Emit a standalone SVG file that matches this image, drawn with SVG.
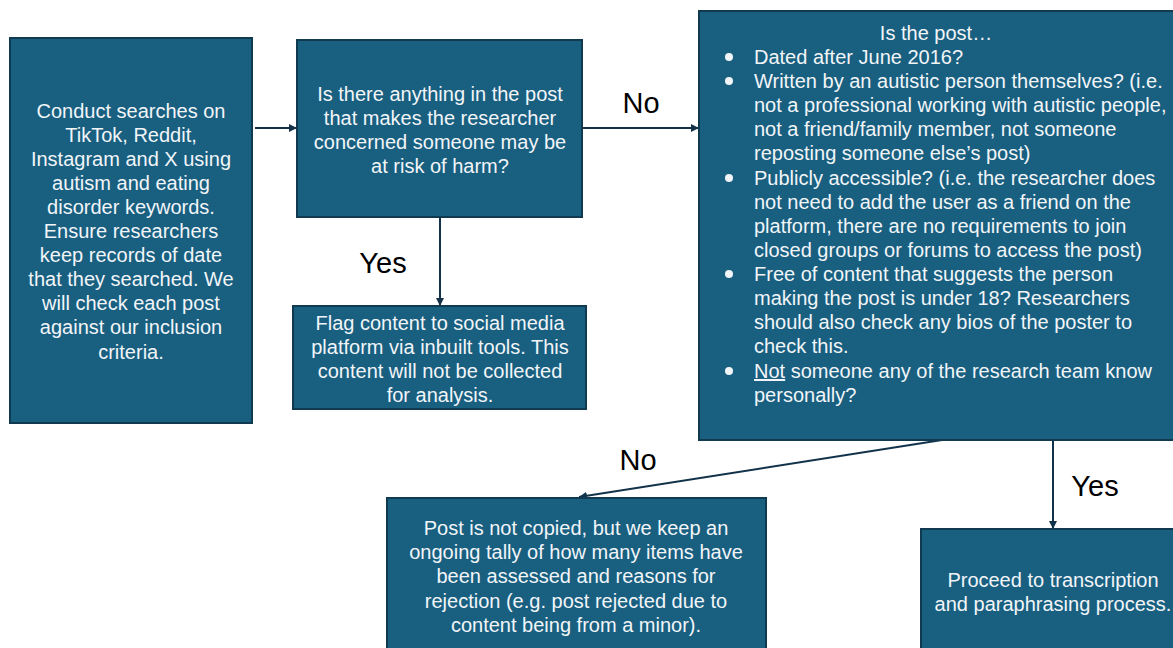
<svg xmlns="http://www.w3.org/2000/svg" width="1173" height="648" viewBox="0 0 1173 648">
<defs>
<style>
.box{fill:#185f80;stroke:#0f3a50;stroke-width:2}
.t{font-family:"Liberation Sans",Arial,sans-serif;font-size:20px;fill:#f2f5f8}
.c{text-anchor:middle}
.lbl{font-family:"Liberation Sans",Arial,sans-serif;font-size:29px;fill:#000;text-anchor:middle}
.con{stroke:#12324a;stroke-width:2;fill:none;marker-end:url(#ah)}
.bul{fill:#f2f5f8}
</style>
<marker id="ah" viewBox="0 0 10 10" refX="10" refY="5" markerWidth="8" markerHeight="8" orient="auto" markerUnits="userSpaceOnUse">
<path d="M0,0 L10,5 L0,10 z" fill="#12324a"/>
</marker>
</defs>
<rect width="1173" height="648" fill="#fff"/>
<g id="connectors">
<line class="con" x1="255" y1="128" x2="297" y2="128"/>
<line class="con" x1="440" y1="217" x2="440" y2="306"/>
<line class="con" x1="582" y1="128" x2="699" y2="128"/>
<line class="con" x1="942" y1="440" x2="579" y2="497"/>
<line class="con" x1="1053" y1="432" x2="1053" y2="529"/>
<text class="lbl" x="641" y="113">No</text>
<text class="lbl" x="383" y="273">Yes</text>
<text class="lbl" x="638" y="470">No</text>
<text class="lbl" x="1095" y="496">Yes</text>
</g>
<g id="search">
<rect class="box" x="10" y="38" width="242" height="385"/>
<text class="t c" x="131" y="118">Conduct searches on</text>
<text class="t c" x="131" y="142">TikTok, Reddit,</text>
<text class="t c" x="131" y="166">Instagram and X using</text>
<text class="t c" x="131" y="190">autism and eating</text>
<text class="t c" x="131" y="214">disorder keywords.</text>
<text class="t c" x="131" y="238">Ensure researchers</text>
<text class="t c" x="131" y="262">keep records of date</text>
<text class="t c" x="131" y="286">that they searched. We</text>
<text class="t c" x="131" y="310">will check each post</text>
<text class="t c" x="131" y="334">against our inclusion</text>
<text class="t c" x="131" y="359">criteria.</text>
</g>
<g id="harm">
<rect class="box" x="297" y="40" width="285" height="177"/>
<text class="t c" x="440" y="101">Is there anything in the post</text>
<text class="t c" x="440" y="125">that makes the researcher</text>
<text class="t c" x="440" y="149">concerned someone may be</text>
<text class="t c" x="440" y="173">at risk of harm?</text>
</g>
<g id="flag">
<rect class="box" x="293" y="306" width="293" height="103"/>
<text class="t c" x="440" y="330">Flag content to social media</text>
<text class="t c" x="440" y="354">platform via inbuilt tools. This</text>
<text class="t c" x="440" y="378">content will not be collected</text>
<text class="t c" x="440" y="402">for analysis.</text>
</g>
<g id="criteria">
<rect class="box" x="699" y="11" width="490" height="429"/>
<text class="t c" x="936" y="40">Is the post…</text>
<circle class="bul" cx="729" cy="57" r="4"/>
<text class="t" x="754" y="64">Dated after June 2016?</text>
<circle class="bul" cx="729" cy="81" r="4"/>
<text class="t" x="754" y="88">Written by an autistic person themselves? (i.e.</text>
<text class="t" x="754" y="112">not a professional working with autistic people,</text>
<text class="t" x="754" y="136">not a friend/family member, not someone</text>
<text class="t" x="754" y="160">reposting someone else’s post)</text>
<circle class="bul" cx="729" cy="178" r="4"/>
<text class="t" x="754" y="185">Publicly accessible? (i.e. the researcher does</text>
<text class="t" x="754" y="209">not need to add the user as a friend on the</text>
<text class="t" x="754" y="233">platform, there are no requirements to join</text>
<text class="t" x="754" y="257">closed groups or forums to access the post)</text>
<circle class="bul" cx="729" cy="274" r="4"/>
<text class="t" x="754" y="281">Free of content that suggests the person</text>
<text class="t" x="754" y="305">making the post is under 18? Researchers</text>
<text class="t" x="754" y="329">should also check any bios of the poster to</text>
<text class="t" x="754" y="353">check this.</text>
<circle class="bul" cx="729" cy="371" r="4"/>
<text class="t" x="754" y="378"><tspan text-decoration="underline">Not</tspan> someone any of the research team know</text>
<text class="t" x="754" y="402">personally?</text>
</g>
<g id="reject">
<rect class="box" x="387" y="498" width="379" height="160"/>
<text class="t c" x="576" y="535">Post is not copied, but we keep an</text>
<text class="t c" x="576" y="559">ongoing tally of how many items have</text>
<text class="t c" x="576" y="583">been assessed and reasons for</text>
<text class="t c" x="576" y="608">rejection (e.g. post rejected due to</text>
<text class="t c" x="576" y="632">content being from a minor).</text>
</g>
<g id="proceed">
<rect class="box" x="921" y="529" width="270" height="130"/>
<text class="t c" x="1053" y="587">Proceed to transcription</text>
<text class="t c" x="1053" y="611">and paraphrasing process.</text>
</g>
</svg>
